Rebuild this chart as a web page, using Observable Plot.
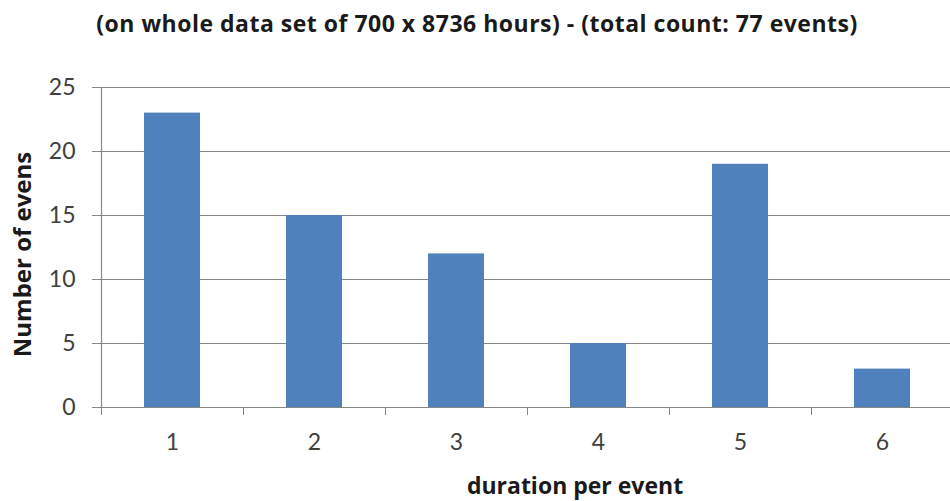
<!DOCTYPE html>
<html>
<head>
<meta charset="utf-8">
<script src="https://cdn.jsdelivr.net/npm/d3@7"></script>
<script src="https://cdn.jsdelivr.net/npm/@observablehq/plot@0.6"></script>
<style>
  html, body { margin: 0; padding: 0; background: #fff; }
  #title {
    height: 46px; line-height: 46px; text-align: center;
    font-family: "Open Sans", sans-serif; font-weight: bold; font-size: 23px;
    letter-spacing: 0.5px;
    color: #1a1a1a; padding-left: 4px; white-space: nowrap;
  }
  #chart svg { display: block; overflow: hidden; }
</style>
</head>
<body>
<div id="title"></div>
<div id="chart"></div>
<script>
const titleText = "(on whole data set of 700 x 8736 hours) - (total count: 77 events)";
const xLabel = "duration per event";
const yLabel = "Number of evens";
const categories = [1, 2, 3, 4, 5, 6];
const counts = [23, 15, 12, 5, 19, 3];
const yTicks = [0, 5, 10, 15, 20, 25];

document.getElementById("title").textContent = titleText;

const data = categories.map((c, i) => ({cat: c, count: counts[i]}));
const boundaries = d3.range(categories.length + 1).map(i => categories[0] - 0.5 + i);

const gray = "#868686";
const tickFont = {fontSize: 23, fill: "#404040", fontFamily: "Lato, sans-serif"};

const chart = Plot.plot({
  width: 950,
  height: 455,
  marginTop: 41,
  marginBottom: 94,
  marginLeft: 101,
  marginRight: 0,
  style: {fontFamily: "Lato, sans-serif", background: "#fff", overflow: "hidden"},
  x: {type: "linear", domain: [boundaries[0], boundaries[boundaries.length - 1]], range: [101, 953]},
  y: {domain: [0, 25]},
  marks: [
    Plot.gridY(yTicks.slice(1), {stroke: gray, strokeOpacity: 1, strokeWidth: 1.2}),
    Plot.rectY(data, {
      x1: d => d.cat - 0.5, x2: d => d.cat + 0.5, y: "count",
      fill: "#4F81BD", insetLeft: 43, insetRight: 43
    }),
    Plot.ruleY([0], {stroke: gray, strokeWidth: 1.2}),
    Plot.ruleX([boundaries[0]], {stroke: gray, strokeWidth: 1.2}),
    Plot.axisX({ticks: boundaries, tickSize: 8, tickFormat: () => "", stroke: gray, strokeOpacity: 1, label: null}),
    Plot.axisX({ticks: categories, tickSize: 0, tickPadding: 26, tickFormat: d3.format("d"), label: null, ...tickFont}),
    Plot.axisY({ticks: yTicks, tickSize: 9, tickPadding: 17, tickFormat: d3.format("d"), stroke: gray, strokeOpacity: 1, label: null, ...tickFont}),
    Plot.text([yLabel], {
      frameAnchor: "left", textAnchor: "middle", lineAnchor: "middle", rotate: -90, dx: -78, dy: 7,
      fontSize: 24, fontWeight: "bold", fill: "#1a1a1a", fontFamily: "'Open Sans', sans-serif",
      letterSpacing: "0.5px"
    }),
    Plot.text([xLabel], {
      frameAnchor: "bottom", textAnchor: "middle", lineAnchor: "middle", dx: 49, dy: 79,
      fontSize: 23, fontWeight: "bold", fill: "#1a1a1a", fontFamily: "'Open Sans', sans-serif",
      letterSpacing: "0.3px"
    })
  ]
});
document.getElementById("chart").appendChild(chart);
</script>
</body>
</html>
